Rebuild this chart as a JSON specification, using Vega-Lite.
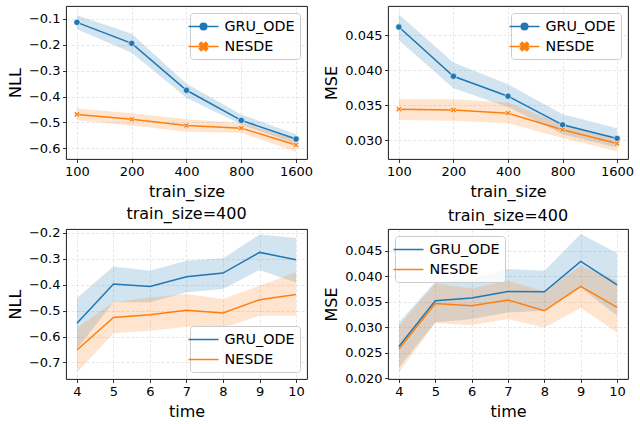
{
  "$schema": "https://vega.github.io/schema/vega-lite/v6.json",
  "padding": {"left": 6, "top": 5, "right": 5, "bottom": 5},
  "background": "white",
  "bounds": "flush",
  "columns": 2,
  "spacing": {"row": 70, "column": 81},
  "config": {
    "font": "DejaVu Sans",
    "view": {"stroke": "black", "strokeWidth": 0.9},
    "axis": {
      "domain": false,
      "tickColor": "black",
      "tickWidth": 0.8,
      "tickSize": 3.5,
      "labelPadding": 2.5,
      "labelFontSize": 13,
      "labelColor": "black",
      "labelOverlap": false,
      "labelFlush": false,
      "labelBound": false,
      "titleFontSize": 16,
      "titleFontWeight": "normal",
      "titleColor": "black",
      "titlePadding": 5,
      "grid": true,
      "gridColor": "#b0b0b0",
      "gridOpacity": 0.3,
      "gridDash": [3, 2],
      "gridWidth": 1
    },
    "title": {"fontSize": 16, "fontWeight": "normal", "color": "black", "offset": 5},
    "legend": {
      "title": null,
      "labelFontSize": 14.3,
      "labelColor": "black",
      "padding": 5,
      "rowPadding": 4,
      "symbolSize": 225,
      "symbolOffset": 0,
      "symbolStrokeWidth": 1.5,
      "labelOffset": 12.5,
      "strokeColor": "#cccccc",
      "fillColor": "rgba(255,255,255,0.8)",
      "cornerRadius": 3,
      "offset": 7
    }
  },
  "resolve": {
    "scale": {"color": "independent", "x": "independent", "y": "independent"},
    "legend": {"color": "independent"}
  },
  "datasets": {
    "tl": [
      {"model": "GRU_ODE", "x": 100, "y": -0.114, "lo": -0.141, "hi": -0.087},
      {"model": "GRU_ODE", "x": 200, "y": -0.195, "lo": -0.231, "hi": -0.158},
      {"model": "GRU_ODE", "x": 400, "y": -0.376, "lo": -0.405, "hi": -0.351},
      {"model": "GRU_ODE", "x": 800, "y": -0.492, "lo": -0.508, "hi": -0.469},
      {"model": "GRU_ODE", "x": 1600, "y": -0.564, "lo": -0.582, "hi": -0.546},
      {"model": "NESDE", "x": 100, "y": -0.469, "lo": -0.492, "hi": -0.446},
      {"model": "NESDE", "x": 200, "y": -0.488, "lo": -0.512, "hi": -0.465},
      {"model": "NESDE", "x": 400, "y": -0.512, "lo": -0.536, "hi": -0.488},
      {"model": "NESDE", "x": 800, "y": -0.522, "lo": -0.540, "hi": -0.502},
      {"model": "NESDE", "x": 1600, "y": -0.587, "lo": -0.613, "hi": -0.565}
    ],
    "tr": [
      {"model": "GRU_ODE", "x": 100, "y": 0.04619, "lo": 0.04429, "hi": 0.0480},
      {"model": "GRU_ODE", "x": 200, "y": 0.03914, "lo": 0.03743, "hi": 0.0411},
      {"model": "GRU_ODE", "x": 400, "y": 0.03629, "lo": 0.03476, "hi": 0.0380},
      {"model": "GRU_ODE", "x": 800, "y": 0.03219, "lo": 0.03086, "hi": 0.03371},
      {"model": "GRU_ODE", "x": 1600, "y": 0.03024, "lo": 0.02895, "hi": 0.03171},
      {"model": "NESDE", "x": 100, "y": 0.03443, "lo": 0.0329, "hi": 0.03586},
      {"model": "NESDE", "x": 200, "y": 0.03433, "lo": 0.03276, "hi": 0.03586},
      {"model": "NESDE", "x": 400, "y": 0.03386, "lo": 0.03243, "hi": 0.03538},
      {"model": "NESDE", "x": 800, "y": 0.03148, "lo": 0.03029, "hi": 0.03229},
      {"model": "NESDE", "x": 1600, "y": 0.02952, "lo": 0.02838, "hi": 0.03038}
    ],
    "bl": [
      {"model": "GRU_ODE", "x": 4, "y": -0.549, "lo": -0.647, "hi": -0.451},
      {"model": "GRU_ODE", "x": 5, "y": -0.397, "lo": -0.468, "hi": -0.329},
      {"model": "GRU_ODE", "x": 6, "y": -0.407, "lo": -0.468, "hi": -0.346},
      {"model": "GRU_ODE", "x": 7, "y": -0.369, "lo": -0.429, "hi": -0.307},
      {"model": "GRU_ODE", "x": 8, "y": -0.355, "lo": -0.416, "hi": -0.298},
      {"model": "GRU_ODE", "x": 9, "y": -0.275, "lo": -0.343, "hi": -0.206},
      {"model": "GRU_ODE", "x": 10, "y": -0.303, "lo": -0.391, "hi": -0.219},
      {"model": "NESDE", "x": 4, "y": -0.652, "lo": -0.739, "hi": -0.566},
      {"model": "NESDE", "x": 5, "y": -0.526, "lo": -0.587, "hi": -0.468},
      {"model": "NESDE", "x": 6, "y": -0.516, "lo": -0.578, "hi": -0.449},
      {"model": "NESDE", "x": 7, "y": -0.498, "lo": -0.562, "hi": -0.436},
      {"model": "NESDE", "x": 8, "y": -0.509, "lo": -0.567, "hi": -0.455},
      {"model": "NESDE", "x": 9, "y": -0.458, "lo": -0.520, "hi": -0.404},
      {"model": "NESDE", "x": 10, "y": -0.438, "lo": -0.520, "hi": -0.352}
    ],
    "br": [
      {"model": "GRU_ODE", "x": 4, "y": 0.02627, "lo": 0.02215, "hi": 0.03097},
      {"model": "GRU_ODE", "x": 5, "y": 0.03521, "lo": 0.03097, "hi": 0.03893},
      {"model": "GRU_ODE", "x": 6, "y": 0.03573, "lo": 0.03162, "hi": 0.03945},
      {"model": "GRU_ODE", "x": 7, "y": 0.03704, "lo": 0.03292, "hi": 0.04141},
      {"model": "GRU_ODE", "x": 8, "y": 0.03697, "lo": 0.03325, "hi": 0.04108},
      {"model": "GRU_ODE", "x": 9, "y": 0.04291, "lo": 0.03782, "hi": 0.04826},
      {"model": "GRU_ODE", "x": 10, "y": 0.03834, "lo": 0.03227, "hi": 0.04454},
      {"model": "NESDE", "x": 4, "y": 0.02574, "lo": 0.02118, "hi": 0.03031},
      {"model": "NESDE", "x": 5, "y": 0.03469, "lo": 0.03084, "hi": 0.0386},
      {"model": "NESDE", "x": 6, "y": 0.03423, "lo": 0.03044, "hi": 0.03762},
      {"model": "NESDE", "x": 7, "y": 0.03534, "lo": 0.03162, "hi": 0.03913},
      {"model": "NESDE", "x": 8, "y": 0.03325, "lo": 0.02999, "hi": 0.03704},
      {"model": "NESDE", "x": 9, "y": 0.03802, "lo": 0.03377, "hi": 0.04206},
      {"model": "NESDE", "x": 10, "y": 0.0339, "lo": 0.02901, "hi": 0.03913}
    ]
  },
  "concat": [
    {
      "width": 241, "height": 153,
      "data": {"name": "tl"},
      "encoding": {
        "x": {"field": "x", "type": "quantitative", "scale": {"type": "log", "base": 2, "domain": [87.06, 1838], "nice": false}, "axis": {"title": "train_size", "values": [100, 200, 400, 800, 1600], "format": "d"}},
        "color": {"field": "model", "type": "nominal", "scale": {"domain": ["GRU_ODE", "NESDE"], "range": ["#1f77b4", "#ff7f0e"]},
          "legend": {"orient": "top-right", "symbolType": "stroke", "encode": {"symbols": {"update": {
            "shape": {"signal": "datum.value === 'GRU_ODE' ? 'M-2,0H2M-0.44,0A0.44,0.44 0 1,0 0.44,0A0.44,0.44 0 1,0 -0.44,0Z' : 'M-2,0H2M-0.298,0.552L0,0.254L0.298,0.552L0.552,0.298L0.254,0L0.552,-0.298L0.298,-0.552L0,-0.254L-0.298,-0.552L-0.552,-0.298L-0.254,0L-0.552,0.298Z'"},
            "fill": {"signal": "datum.value === 'GRU_ODE' ? '#1f77b4' : '#ff7f0e'"},
            "stroke": {"signal": "datum.value === 'GRU_ODE' ? '#1f77b4' : '#ff7f0e'"},
            "opacity": {"value": 1}}}}}}
      },
      "layer": [
        {"mark": {"type": "area", "opacity": 0.2}, "encoding": {
          "y": {"field": "lo", "type": "quantitative", "scale": {"domain": [-0.641, -0.051], "nice": false, "zero": false}, "axis": {"title": "NLL", "values": [-0.6, -0.5, -0.4, -0.3, -0.2, -0.1], "format": ".1f"}},
          "y2": {"field": "hi"}}},
        {"mark": {"type": "line", "strokeWidth": 1.5}, "encoding": {
          "y": {"field": "y", "type": "quantitative", "scale": {"domain": [-0.641, -0.051], "nice": false, "zero": false}, "axis": {"title": "NLL", "values": [-0.6, -0.5, -0.4, -0.3, -0.2, -0.1], "format": ".1f"}}}},
        {"transform": [{"filter": "datum.model === 'GRU_ODE'"}],
         "mark": {"type": "point", "shape": "circle", "filled": true, "size": 40, "stroke": "white", "strokeWidth": 0.6, "opacity": 1}, "encoding": {
          "y": {"field": "y", "type": "quantitative", "scale": {"domain": [-0.641, -0.051], "nice": false, "zero": false}, "axis": {"title": "NLL", "values": [-0.6, -0.5, -0.4, -0.3, -0.2, -0.1], "format": ".1f"}}}},
        {"transform": [{"filter": "datum.model === 'NESDE'"}],
         "mark": {"type": "point", "shape": "M-0.495,0.919L0,0.424L0.495,0.919L0.919,0.495L0.424,0L0.919,-0.495L0.495,-0.919L0,-0.424L-0.495,-0.919L-0.919,-0.495L-0.424,0L-0.919,0.495Z", "filled": true, "size": 40, "stroke": "white", "strokeWidth": 0.6, "opacity": 1}, "encoding": {
          "y": {"field": "y", "type": "quantitative", "scale": {"domain": [-0.641, -0.051], "nice": false, "zero": false}, "axis": {"title": "NLL", "values": [-0.6, -0.5, -0.4, -0.3, -0.2, -0.1], "format": ".1f"}}}}
      ]
    },
    {
      "width": 240, "height": 153,
      "data": {"name": "tr"},
      "encoding": {
        "x": {"field": "x", "type": "quantitative", "scale": {"type": "log", "base": 2, "domain": [87.06, 1838], "nice": false}, "axis": {"title": "train_size", "values": [100, 200, 400, 800, 1600], "format": "d"}},
        "color": {"field": "model", "type": "nominal", "scale": {"domain": ["GRU_ODE", "NESDE"], "range": ["#1f77b4", "#ff7f0e"]},
          "legend": {"orient": "top-right", "symbolType": "stroke", "encode": {"symbols": {"update": {
            "shape": {"signal": "datum.value === 'GRU_ODE' ? 'M-2,0H2M-0.44,0A0.44,0.44 0 1,0 0.44,0A0.44,0.44 0 1,0 -0.44,0Z' : 'M-2,0H2M-0.298,0.552L0,0.254L0.298,0.552L0.552,0.298L0.254,0L0.552,-0.298L0.298,-0.552L0,-0.254L-0.298,-0.552L-0.552,-0.298L-0.254,0L-0.552,0.298Z'"},
            "fill": {"signal": "datum.value === 'GRU_ODE' ? '#1f77b4' : '#ff7f0e'"},
            "stroke": {"signal": "datum.value === 'GRU_ODE' ? '#1f77b4' : '#ff7f0e'"},
            "opacity": {"value": 1}}}}}}
      },
      "layer": [
        {"mark": {"type": "area", "opacity": 0.2}, "encoding": {
          "y": {"field": "lo", "type": "quantitative", "scale": {"domain": [0.0273, 0.0492], "nice": false, "zero": false}, "axis": {"title": "MSE", "values": [0.030, 0.035, 0.040, 0.045], "format": ".3f"}},
          "y2": {"field": "hi"}}},
        {"mark": {"type": "line", "strokeWidth": 1.5}, "encoding": {
          "y": {"field": "y", "type": "quantitative", "scale": {"domain": [0.0273, 0.0492], "nice": false, "zero": false}, "axis": {"title": "MSE", "values": [0.030, 0.035, 0.040, 0.045], "format": ".3f"}}}},
        {"transform": [{"filter": "datum.model === 'GRU_ODE'"}],
         "mark": {"type": "point", "shape": "circle", "filled": true, "size": 40, "stroke": "white", "strokeWidth": 0.6, "opacity": 1}, "encoding": {
          "y": {"field": "y", "type": "quantitative", "scale": {"domain": [0.0273, 0.0492], "nice": false, "zero": false}, "axis": {"title": "MSE", "values": [0.030, 0.035, 0.040, 0.045], "format": ".3f"}}}},
        {"transform": [{"filter": "datum.model === 'NESDE'"}],
         "mark": {"type": "point", "shape": "M-0.495,0.919L0,0.424L0.495,0.919L0.919,0.495L0.424,0L0.919,-0.495L0.495,-0.919L0,-0.424L-0.495,-0.919L-0.919,-0.495L-0.424,0L-0.919,0.495Z", "filled": true, "size": 40, "stroke": "white", "strokeWidth": 0.6, "opacity": 1}, "encoding": {
          "y": {"field": "y", "type": "quantitative", "scale": {"domain": [0.0273, 0.0492], "nice": false, "zero": false}, "axis": {"title": "MSE", "values": [0.030, 0.035, 0.040, 0.045], "format": ".3f"}}}}
      ]
    },
    {
      "width": 241, "height": 150,
      "title": "train_size=400",
      "data": {"name": "bl"},
      "encoding": {
        "x": {"field": "x", "type": "quantitative", "scale": {"domain": [3.7, 10.3], "nice": false, "zero": false}, "axis": {"title": "time", "values": [4, 5, 6, 7, 8, 9, 10], "format": "d"}},
        "color": {"field": "model", "type": "nominal", "scale": {"domain": ["GRU_ODE", "NESDE"], "range": ["#1f77b4", "#ff7f0e"]},
          "legend": {"orient": "bottom-right", "symbolType": "stroke", "encode": {"symbols": {"update": {
            "shape": {"value": "M-2,0H2"},
            "stroke": {"signal": "datum.value === 'GRU_ODE' ? '#1f77b4' : '#ff7f0e'"},
            "opacity": {"value": 1}}}}}}
      },
      "layer": [
        {"mark": {"type": "area", "opacity": 0.2}, "encoding": {
          "y": {"field": "lo", "type": "quantitative", "scale": {"domain": [-0.764, -0.1846], "nice": false, "zero": false}, "axis": {"title": "NLL", "values": [-0.7, -0.6, -0.5, -0.4, -0.3, -0.2], "format": ".1f"}},
          "y2": {"field": "hi"}}},
        {"mark": {"type": "line", "strokeWidth": 1.5}, "encoding": {
          "y": {"field": "y", "type": "quantitative", "scale": {"domain": [-0.764, -0.1846], "nice": false, "zero": false}, "axis": {"title": "NLL", "values": [-0.7, -0.6, -0.5, -0.4, -0.3, -0.2], "format": ".1f"}}}}
      ]
    },
    {
      "width": 240, "height": 150,
      "title": "train_size=400",
      "data": {"name": "br"},
      "encoding": {
        "x": {"field": "x", "type": "quantitative", "scale": {"domain": [3.7, 10.3], "nice": false, "zero": false}, "axis": {"title": "time", "values": [4, 5, 6, 7, 8, 9, 10], "format": "d"}},
        "color": {"field": "model", "type": "nominal", "scale": {"domain": ["GRU_ODE", "NESDE"], "range": ["#1f77b4", "#ff7f0e"]},
          "legend": {"orient": "top-left", "symbolType": "stroke", "encode": {"symbols": {"update": {
            "shape": {"value": "M-2,0H2"},
            "stroke": {"signal": "datum.value === 'GRU_ODE' ? '#1f77b4' : '#ff7f0e'"},
            "opacity": {"value": 1}}}}}}
      },
      "layer": [
        {"mark": {"type": "area", "opacity": 0.2}, "encoding": {
          "y": {"field": "lo", "type": "quantitative", "scale": {"domain": [0.0199, 0.04925], "nice": false, "zero": false}, "axis": {"title": "MSE", "values": [0.020, 0.025, 0.030, 0.035, 0.040, 0.045], "format": ".3f"}},
          "y2": {"field": "hi"}}},
        {"mark": {"type": "line", "strokeWidth": 1.5}, "encoding": {
          "y": {"field": "y", "type": "quantitative", "scale": {"domain": [0.0199, 0.04925], "nice": false, "zero": false}, "axis": {"title": "MSE", "values": [0.020, 0.025, 0.030, 0.035, 0.040, 0.045], "format": ".3f"}}}}
      ]
    }
  ]
}
